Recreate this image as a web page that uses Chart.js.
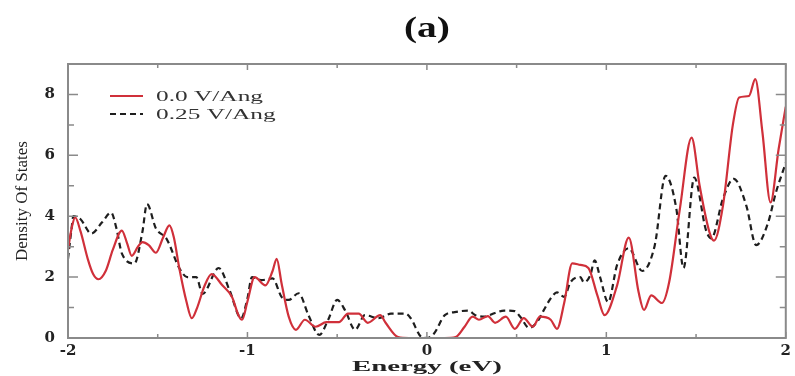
<!DOCTYPE html>
<html>
<head>
<meta charset="utf-8">
<script src="https://cdn.jsdelivr.net/npm/chart.js@4.4.1/dist/chart.umd.min.js"></script>
<style>
  html, body { margin: 0; padding: 0; background: #fff; }
  #wrap { width: 795px; height: 376px; }
</style>
</head>
<body>
<div id="wrap"><canvas id="dos"></canvas></div>
<script>
// Density of states, 0.0 V/Ang field (red solid)
const redEnergy = [-2.0, -1.98, -1.96, -1.93, -1.89, -1.86, -1.83, -1.79, -1.75, -1.70, -1.67, -1.645, -1.61, -1.585, -1.55, -1.51, -1.47, -1.435, -1.41, -1.38, -1.34, -1.31, -1.28, -1.24, -1.20, -1.14, -1.086, -1.05, -1.03, -1.0, -0.96, -0.9, -0.86, -0.837, -0.81, -0.77, -0.73, -0.68, -0.62, -0.56, -0.49, -0.44, -0.38, -0.33, -0.26, -0.23, -0.16, -0.1, 0.1, 0.16, 0.21, 0.255, 0.29, 0.34, 0.38, 0.44, 0.49, 0.54, 0.59, 0.63, 0.69, 0.725, 0.765, 0.81, 0.855, 0.9, 0.95, 0.99, 1.06, 1.125, 1.18, 1.21, 1.25, 1.31, 1.35, 1.41, 1.475, 1.52, 1.575, 1.6, 1.65, 1.705, 1.74, 1.795, 1.83, 1.87, 1.915, 1.96, 2.0];
const redDos = [2.9, 3.6, 3.96, 3.5, 2.6, 2.1, 1.93, 2.2, 2.9, 3.53, 3.1, 2.7, 3.0, 3.15, 3.05, 2.8, 3.3, 3.7, 3.3, 2.3, 1.2, 0.65, 1.0, 1.7, 2.1, 1.73, 1.35, 0.75, 0.6, 1.2, 2.0, 1.73, 2.2, 2.6, 1.8, 0.7, 0.27, 0.6, 0.37, 0.52, 0.52, 0.8, 0.8, 0.5, 0.75, 0.5, 0.03, 0, 0, 0.03, 0.37, 0.7, 0.6, 0.72, 0.5, 0.7, 0.3, 0.65, 0.37, 0.7, 0.6, 0.3, 1.15, 2.45, 2.4, 2.3, 1.4, 0.75, 1.73, 3.3, 1.5, 0.92, 1.4, 1.15, 1.83, 4.25, 6.58, 5.0, 3.47, 3.2, 4.35, 7.0, 7.9, 7.95, 8.5, 6.75, 4.45, 6.2, 7.6];

// Density of states, 0.25 V/Ang field (black dashed)
const blackEnergy = [-2.0, -1.98, -1.97, -1.93, -1.87, -1.81, -1.76, -1.73, -1.70, -1.63, -1.585, -1.56, -1.51, -1.45, -1.38, -1.335, -1.285, -1.25, -1.16, -1.10, -1.035, -1.0, -0.975, -0.92, -0.86, -0.81, -0.77, -0.715, -0.66, -0.6, -0.55, -0.5, -0.455, -0.4, -0.345, -0.27, -0.2, -0.12, -0.09, -0.03, 0.0, 0.04, 0.1, 0.155, 0.23, 0.27, 0.32, 0.38, 0.43, 0.49, 0.52, 0.57, 0.615, 0.65, 0.69, 0.725, 0.765, 0.8, 0.855, 0.875, 0.91, 0.935, 0.965, 1.01, 1.06, 1.125, 1.2, 1.27, 1.33, 1.39, 1.43, 1.49, 1.556, 1.585, 1.65, 1.71, 1.78, 1.835, 1.9, 1.945, 2.0];
const blackDos = [2.6, 3.6, 4.0, 3.9, 3.43, 3.8, 4.12, 3.6, 2.78, 2.45, 3.5, 4.4, 3.6, 3.25, 2.3, 2.0, 2.0, 1.45, 2.3, 1.57, 0.65, 1.3, 2.0, 1.9, 1.96, 1.35, 1.25, 1.47, 0.75, 0.1, 0.6, 1.25, 0.9, 0.27, 0.75, 0.65, 0.8, 0.8, 0.65, 0.03, 0.0, 0.15, 0.75, 0.85, 0.9, 0.75, 0.7, 0.82, 0.9, 0.88, 0.7, 0.33, 0.53, 0.9, 1.3, 1.5, 1.35, 1.83, 2.0, 1.83, 2.05, 2.55, 2.0, 1.18, 2.4, 2.95, 2.2, 3.05, 5.33, 4.25, 2.3, 5.27, 3.53, 3.27, 4.58, 5.23, 4.35, 3.05, 3.76, 4.78, 5.75];

const seriesLabels = ['0.0 V/Ang', '0.25 V/Ang'];
const xMajor = [-2, -1, 0, 1, 2];
const xMinor = [-1.5, -0.5, 0.5, 1.5];
const yMajor = [0, 2, 4, 6, 8];
const yMinor = [1, 3, 5, 7];

const serif = '"Liberation Serif", "DejaVu Serif", serif';
const wideSerif = '"DejaVu Serif", "Liberation Serif", serif';
const frameColor = '#8a8a8a';

function toPoints(xs, ys) {
    return xs.map((x, i) => ({ x: x, y: ys[i] }));
}

// text squeezed/stretched sideways to a given width (the source image is stretched)
function wideText(ctx, text, x, y, width, align) {
    const w = ctx.measureText(text).width;
    const k = width / w;
    ctx.save();
    ctx.translate(x, y);
    ctx.scale(k, 1);
    ctx.textAlign = align;
    ctx.fillText(text, 0, 0);
    ctx.restore();
    return k;
}

// frame, inward ticks, title, x title and legend
const decorations = {
    id: 'decorations',
    afterDatasetsDraw(chart) {
        const { ctx, chartArea: a, scales } = chart;
        const xs = scales.x, ys = scales.y;
        ctx.save();
        ctx.strokeStyle = frameColor;
        ctx.lineWidth = 2;
        ctx.strokeRect(a.left, a.top, a.right - a.left, a.bottom - a.top);

        ctx.lineWidth = 1.5;
        ctx.beginPath();
        const xTick = (v, len) => {
            const px = xs.getPixelForValue(v);
            ctx.moveTo(px, a.bottom); ctx.lineTo(px, a.bottom - len);
            ctx.moveTo(px, a.top); ctx.lineTo(px, a.top + len);
        };
        const yTick = (v, len) => {
            const py = ys.getPixelForValue(v);
            ctx.moveTo(a.left, py); ctx.lineTo(a.left + len, py);
            ctx.moveTo(a.right, py); ctx.lineTo(a.right - len, py);
        };
        xMajor.forEach(v => xTick(v, 6));
        xMinor.forEach(v => xTick(v, 4));
        yMajor.forEach(v => yTick(v, 10));
        yMinor.forEach(v => yTick(v, 6));
        ctx.stroke();

        ctx.fillStyle = '#111';
        ctx.textBaseline = 'middle';

        // title
        ctx.font = 'bold 30px ' + serif;
        wideText(ctx, '(a)', (a.left + a.right) / 2, 29, 46, 'center');

        // x axis title
        ctx.fillStyle = '#222';
        ctx.font = 'bold 15px ' + serif;
        wideText(ctx, 'Energy (eV)', (a.left + a.right) / 2, 367, 150, 'center');

        // legend
        ctx.font = '15px ' + serif;
        const k = 107 / ctx.measureText(seriesLabels[0]).width;
        chart.data.datasets.forEach((ds, i) => {
            const y = 96 + i * 18;
            ctx.strokeStyle = ds.borderColor;
            ctx.lineWidth = 2;
            ctx.setLineDash(ds.borderDash || []);
            ctx.beginPath();
            ctx.moveTo(110, y);
            ctx.lineTo(143, y);
            ctx.stroke();
            ctx.setLineDash([]);
            ctx.fillStyle = '#333';
            wideText(ctx, ds.label, 156, y + 1, ctx.measureText(ds.label).width * k, 'left');
        });
        ctx.restore();
    }
};

document.addEventListener('DOMContentLoaded', () => {
    const ctx = document.getElementById('dos').getContext('2d');
    new Chart(ctx, {
        type: 'line',
        data: {
            datasets: [{
                label: seriesLabels[0],
                data: toPoints(redEnergy, redDos),
                borderColor: '#d0303a',
                borderWidth: 2.2,
                pointRadius: 0,
                cubicInterpolationMode: 'monotone',
                fill: false
            }, {
                label: seriesLabels[1],
                data: toPoints(blackEnergy, blackDos),
                borderColor: '#1e1e1e',
                borderWidth: 2.2,
                borderDash: [6, 4],
                pointRadius: 0,
                cubicInterpolationMode: 'monotone',
                fill: false
            }]
        },
        options: {
            responsive: true,
            maintainAspectRatio: false,
            animation: false,
            layout: { padding: { top: 64, right: 5, left: 0, bottom: 0 } },
            plugins: {
                legend: { display: false },
                title: { display: false },
                tooltip: { enabled: false }
            },
            scales: {
                x: {
                    type: 'linear',
                    min: -2,
                    max: 2,
                    afterBuildTicks: (scale) => { scale.ticks = xMajor.map(v => ({ value: v })); },
                    afterFit: (scale) => { scale.height = 38; },
                    grid: { display: false, drawTicks: false },
                    border: { display: false },
                    ticks: {
                        color: '#222',
                        padding: 4,
                        maxRotation: 0,
                        font: { family: wideSerif, size: 15, weight: 'bold' }
                    }
                },
                y: {
                    min: 0,
                    max: 9,
                    afterBuildTicks: (scale) => { scale.ticks = yMajor.map(v => ({ value: v })); },
                    afterFit: (scale) => { scale.width = 68; },
                    grid: { display: false, drawTicks: false },
                    border: { display: false },
                    ticks: {
                        color: '#222',
                        padding: 13,
                        font: { family: wideSerif, size: 15, weight: 'bold' }
                    },
                    title: {
                        display: true,
                        text: 'Density Of States',
                        color: '#222',
                        padding: { top: 12, bottom: 0 },
                        font: { family: serif, size: 17 }
                    }
                }
            }
        },
        plugins: [decorations]
    });
});
</script>
</body>
</html>
